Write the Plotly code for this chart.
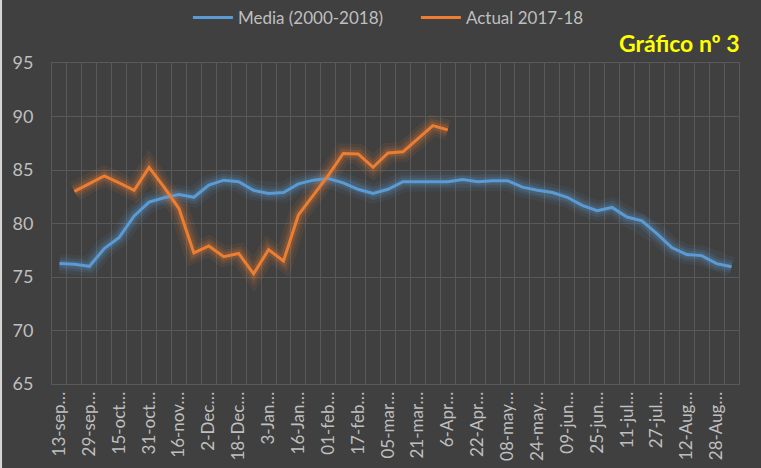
import plotly.graph_objects as go

categories = [
    "13-sep", "21-sep", "29-sep", "07-oct", "15-oct", "23-oct", "31-oct", "08-nov",
    "16-nov", "24-nov", "2-Dec", "10-Dec", "18-Dec", "26-Dec", "3-Jan", "10-Jan",
    "16-Jan", "24-Jan", "01-feb", "09-feb", "17-feb", "25-feb", "05-mar", "13-mar",
    "21-mar", "29-mar", "6-Apr", "14-Apr", "22-Apr", "30-Apr", "08-may", "16-may",
    "24-may", "01-jun", "09-jun", "17-jun", "25-jun", "03-jul", "11-jul", "19-jul",
    "27-jul", "04-Aug", "12-Aug", "20-Aug", "28-Aug", "05-sep",
]

media = [
    76.25, 76.2, 76.0, 77.65, 78.7, 80.7, 82.0, 82.4, 82.7, 82.45, 83.6, 84.05,
    83.9, 83.1, 82.8, 82.9, 83.7, 84.05, 84.2, 83.8, 83.2, 82.8, 83.2, 83.9,
    83.9, 83.9, 83.9, 84.1, 83.9, 84.0, 84.0, 83.4, 83.1, 82.9, 82.45, 81.7,
    81.2, 81.5, 80.6, 80.25, 79.05, 77.75, 77.1, 77.0, 76.25, 75.95,
]

actual = [
    None, 83.0, 83.7, 84.45, 83.8, 83.1, 85.25, 83.4, 81.4, 77.25, 77.9, 76.9,
    77.2, 75.3, 77.55, 76.5, 80.8, 82.65, 84.5, 86.55, 86.5, 85.25, 86.6, 86.7,
    87.9, 89.15, 88.75,
]
actual_x = categories[:len(actual)]

tick_labels = [c + "…" if i % 2 == 0 else "" for i, c in enumerate(categories)]

BLUE = "#5B9BD5"
ORANGE = "#ED7D31"
BG = "#404040"
GRID = "#595959"
TXT = "#BFBFBF"

fig = go.Figure()

# glow layers
for xs, ys, rgb in [(categories, media, "91,155,213"), (actual_x, actual, "237,125,49")]:
    for w, a in [(20, 0.08), (13, 0.12), (8, 0.18)]:
        fig.add_trace(go.Scatter(
            x=xs, y=ys, mode="lines", showlegend=False, hoverinfo="skip",
            line=dict(color=f"rgba({rgb},{a})", width=w),
        ))

fig.add_trace(go.Scatter(x=categories, y=media, mode="lines", name="Media (2000-2018)",
                         line=dict(color=BLUE, width=3)))
fig.add_trace(go.Scatter(x=actual_x, y=actual, mode="lines", name="Actual 2017-18",
                         line=dict(color=ORANGE, width=3)))

fig.update_layout(
    width=761, height=468,
    paper_bgcolor=BG, plot_bgcolor=BG,
    margin=dict(l=52, r=22, t=63, b=84, autoexpand=False),
    font=dict(family="Lato, Open Sans, sans-serif", color=TXT),
    showlegend=True,
    legend=dict(orientation="h", x=(188 - 52) / 687.5, xanchor="left", y=1.14, yanchor="middle",
                font=dict(size=17, color=TXT), bgcolor="rgba(0,0,0,0)",
                itemwidth=40, tracegroupgap=0, entrywidth=173, entrywidthmode="pixels"),
    annotations=[dict(text="<b>Gráfico nº 3</b>", xref="paper", yref="paper",
                      x=1.004, y=1.062, xanchor="right", yanchor="middle",
                      showarrow=False, font=dict(size=23, color="#FFFF00"))],
    shapes=[dict(type="rect", xref="paper", yref="paper", x0=-52 / 687.5, x1=-50 / 687.5,
                 y0=-84 / 321, y1=1 + 63 / 321, fillcolor="#D9D9D9", line_width=0,
                 layer="above")],
)

fig.update_xaxes(
    type="category", categoryorder="array", categoryarray=categories,
    tickson="boundaries", tickmode="array", tickvals=categories, ticktext=tick_labels,
    tickangle=-90, tickfont=dict(size=17, color=TXT), ticks="",
    showgrid=True, gridcolor=GRID, gridwidth=1, automargin=False,
    showline=True, linecolor=GRID, mirror=True, zeroline=False,
    range=[-0.5, 45.5],
)
fig.update_yaxes(
    range=[65, 95], dtick=5, tick0=65, tickfont=dict(size=18, color=TXT),
    showgrid=True, gridcolor=GRID, gridwidth=1, zeroline=False, automargin=False,
    showline=True, linecolor=GRID, mirror=True, ticks="outside", ticklen=14, tickcolor=BG,
)

fig.write_html("out.html", config={"displayModeBar": False},
               post_script="document.body.style.margin='0';")
